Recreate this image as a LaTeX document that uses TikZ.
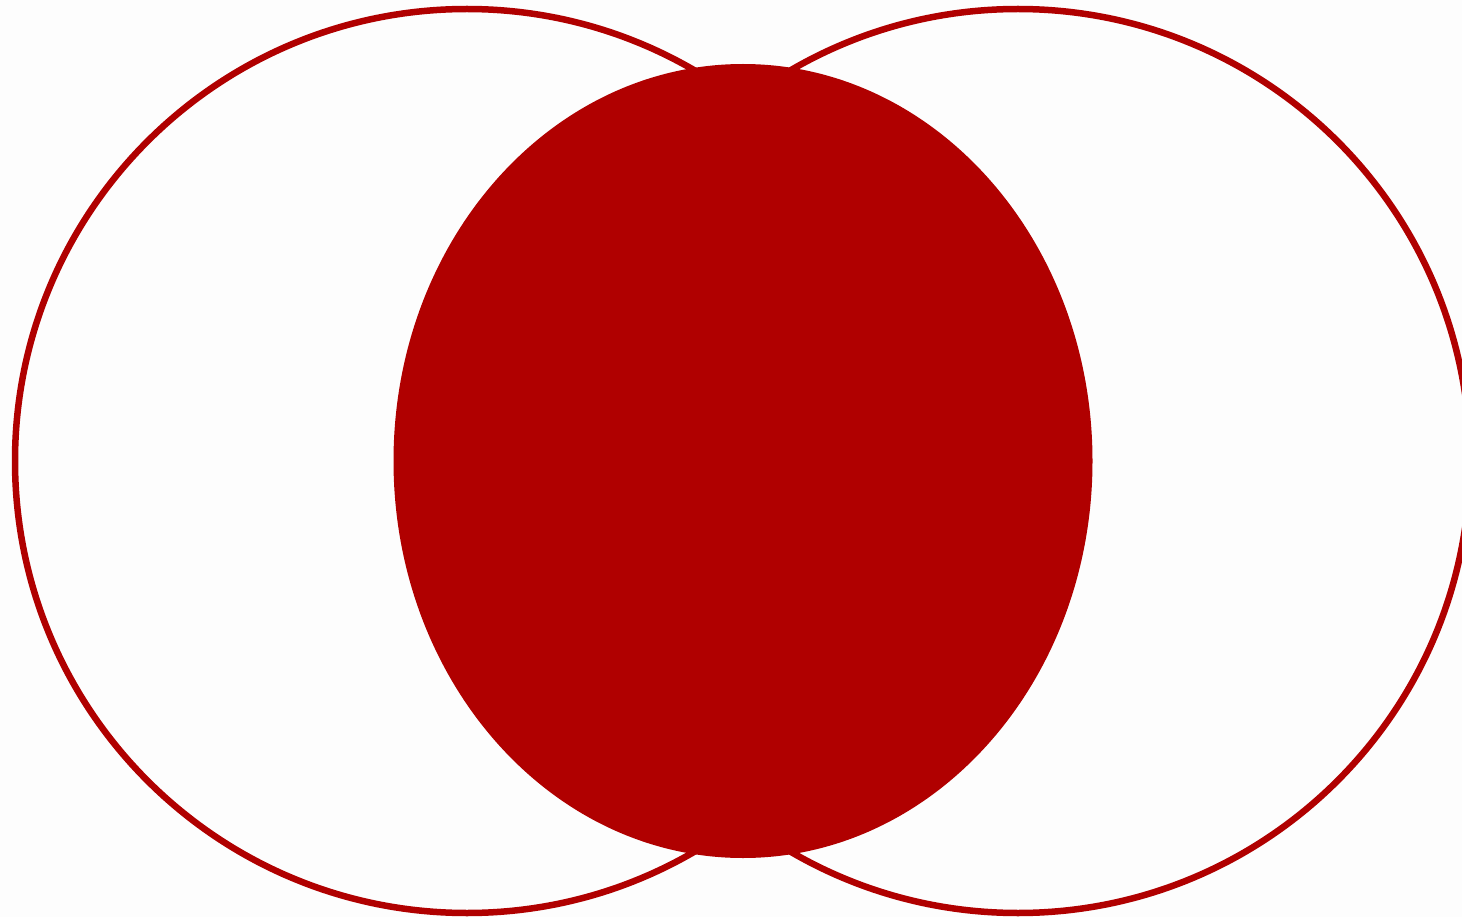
\documentclass[tikz,border=0pt]{standalone}
\usetikzlibrary{shapes.geometric}
\definecolor{venn}{HTML}{B00000}
\definecolor{bg}{HTML}{FDFDFD}
\tikzset{
  ring/.style={draw=venn, line width=6.5pt, fill=bg},
  core/.style={fill=venn, draw=none}
}
\begin{document}
\begin{tikzpicture}[x=1pt,y=-1pt]
\fill[bg] (0,0) rectangle (1462,917);
\useasboundingbox (0,0) rectangle (1462,917);
\begin{scope}
\clip (0,0) rectangle (1462,917);
\node[ring, ellipse, minimum width=904pt, minimum height=904pt, inner sep=0pt, outer sep=0pt] (left) at (467,461) {};
\node[ring, ellipse, minimum width=904pt, minimum height=904pt, inner sep=0pt, outer sep=0pt] (right) at (1018,461) {};
\node[core, ellipse, minimum width=699pt, minimum height=794pt, inner sep=0pt, outer sep=0pt] (mid) at (743,461) {};
\end{scope}
\end{tikzpicture}
\end{document}
